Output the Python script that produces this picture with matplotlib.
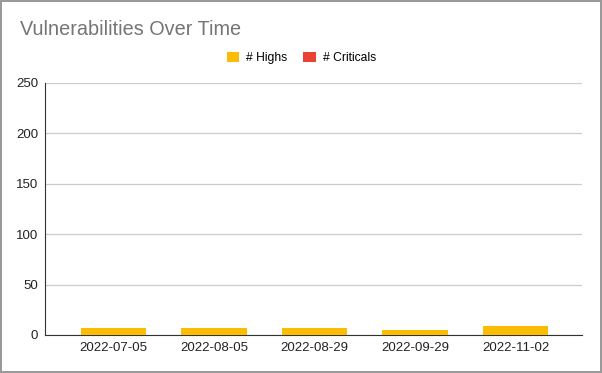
import matplotlib.pyplot as plt
import numpy as np

plt.rcParams['font.family'] = ['Liberation Sans', 'DejaVu Sans']

# data
dates = ['2022-07-05', '2022-08-05', '2022-08-29', '2022-09-29', '2022-11-02']
highs = [7, 7, 7, 5, 9]
criticals = [0, 0, 0, 0, 0]

fig = plt.figure(figsize=(6.02, 3.73), dpi=100)
fig.patch.set_edgecolor('#9a9a9a')
fig.patch.set_linewidth(1.5)
ax = fig.add_axes([0.0748, 0.1019, 0.892, 0.6764])

x = np.arange(len(dates))
ax.bar(x, highs, width=0.65, color='#fbbc04', label='# Highs', zorder=3)
ax.bar(x, criticals, width=0.65, bottom=highs, color='#ea4335', label='# Criticals', zorder=3)

ax.set_ylim(0, 250)
ax.set_yticks([0, 50, 100, 150, 200, 250])
ax.set_xlim(-0.68, 4.66)
ax.set_xticks(x)
ax.set_xticklabels(dates)
ax.tick_params(length=0, labelsize=9.5, colors='#222222', pad=5)
ax.grid(axis='y', color='#cccccc', linewidth=0.9, zorder=0)

for s in ['top', 'right']:
    ax.spines[s].set_visible(False)
ax.spines['left'].set_color('#333333')
ax.spines['bottom'].set_color('#333333')

fig.text(0.033, 0.922, 'Vulnerabilities Over Time', fontsize=14.3, color='#757575', va='center')
fig.legend(loc='center', bbox_to_anchor=(0.501, 0.845), ncol=2, frameon=False,
           fontsize=8.7, handlelength=1.0, handleheight=1.0, handletextpad=0.6, columnspacing=1.3)

plt.savefig('out.png', dpi=100)
